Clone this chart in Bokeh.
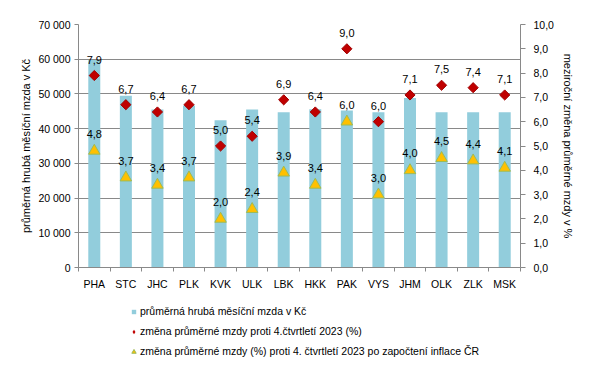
import numpy as np
from bokeh.plotting import figure
from bokeh.layouts import column
from bokeh.models import (Range1d, LinearAxis, FixedTicker, Legend, LegendItem,
                          ColumnDataSource)
from bokeh.core.properties import value
from bokeh.embed import file_html
from bokeh.resources import INLINE

# ---- data ----
regions = ["PHA", "STC", "JHC", "PLK", "KVK", "ULK", "LBK", "HKK", "PAK", "VYS",
           "JHM", "OLK", "ZLK", "MSK"]
wage = [59800, 49500, 45500, 46700, 42400, 45500, 44700, 45600, 45200, 44700,
        48800, 44700, 44700, 44700]
nominal = [7.9, 6.7, 6.4, 6.7, 5.0, 5.4, 6.9, 6.4, 9.0, 6.0, 7.1, 7.5, 7.4, 7.1]
real = [4.8, 3.7, 3.4, 3.7, 2.0, 2.4, 3.9, 3.4, 6.0, 3.0, 4.0, 4.5, 4.4, 4.1]
left_ticks = [0, 10000, 20000, 30000, 40000, 50000, 60000, 70000]
left_labels = ["0", "10 000", "20 000", "30 000", "40 000", "50 000", "60 000", "70 000"]
right_ticks = [0, 1, 2, 3, 4, 5, 6, 7, 8, 9, 10]
right_labels = ["0,0", "1,0", "2,0", "3,0", "4,0", "5,0", "6,0", "7,0", "8,0", "9,0", "10,0"]
legend_labels = ["průměrná hrubá měsíční mzda v Kč",
                 "změna průměrné mzdy proti 4.čtvrtletí 2023 (%)",
                 "změna průměrné mzdy (%) proti 4. čtvrtletí 2023 po započtení inflace ČR"]
left_title = "průměrná hrubá měsíční mzda v Kč"
right_title = "meziroční změna průměrné mzdy v %"

FONT = "Liberation Sans"
GRAY = "#898989"
BAR = "#92CDDC"
RED = "#C00000"
GOLD = "#FFC000"
OLIVE = "#9BBB59"

xpos = np.arange(len(regions)) + 0.5
src = ColumnDataSource(dict(
    x=xpos, wage=wage, nominal=nominal, real=real,
    nom_lbl=[f"{v:.1f}".replace(".", ",") for v in nominal],
    real_lbl=[f"{v:.1f}".replace(".", ",") for v in real],
))

p = figure(width=590, height=292, output_backend="svg", toolbar_location=None,
           x_range=Range1d(0, len(regions)), y_range=Range1d(0, 70000),
           min_border_left=78, min_border_right=70, min_border_top=24,
           min_border_bottom=24)
p.outline_line_color = None
p.background_fill_color = "white"
p.border_fill_color = "white"
p.extra_y_ranges = {"right": Range1d(0, 10)}

# grid
p.xgrid.visible = False
p.ygrid.ticker = FixedTicker(ticks=left_ticks)
p.ygrid.grid_line_color = GRAY
p.ygrid.grid_line_width = 1

# bars and markers
p.vbar(x="x", top="wage", width=0.38, source=src, fill_color=BAR, line_color=None)
p.scatter(x="x", y="nominal", source=src, y_range_name="right", marker="square",
          angle=np.pi / 4, size=7.2, fill_color=RED, line_color="#A00000")
p.scatter(x="x", y="real", source=src, y_range_name="right", marker="triangle",
          size=11.5, fill_color=GOLD, line_color=OLIVE, line_width=1)

p.text(x="x", y="nominal", text="nom_lbl", source=src, y_range_name="right",
       y_offset=-16, text_align="center", text_baseline="middle",
       text_font=value(FONT), text_font_size="11px", text_color="black")
p.text(x="x", y="real", text="real_lbl", source=src, y_range_name="right",
       y_offset=-17, text_align="center", text_baseline="middle",
       text_font=value(FONT), text_font_size="11px", text_color="black")

# axes
xa = p.xaxis[0]
xa.ticker = FixedTicker(ticks=list(xpos), minor_ticks=list(range(len(regions) + 1)))
xa.major_label_overrides = {float(x): r for x, r in zip(xpos, regions)}
xa.major_tick_out = 0
xa.major_tick_in = 0
xa.minor_tick_out = 4
xa.minor_tick_in = 0
xa.minor_tick_line_color = GRAY
xa.axis_line_color = GRAY
xa.major_label_standoff = 6
xa.major_label_text_font = FONT
xa.major_label_text_font_size = "10.5px"
xa.major_label_text_color = "black"

ya = p.yaxis[0]
ya.ticker = FixedTicker(ticks=left_ticks)
ya.major_label_overrides = {t: l for t, l in zip(left_ticks, left_labels)}
ya.minor_tick_line_color = None
ya.major_tick_out = 4
ya.major_tick_in = 0
ya.major_tick_line_color = GRAY
ya.axis_line_color = GRAY
ya.major_label_standoff = 4
ya.major_label_text_font = FONT
ya.major_label_text_font_size = "10.5px"
ya.major_label_text_color = "black"
ya.axis_label = left_title
ya.axis_label_text_font = FONT
ya.axis_label_text_font_size = "11px"
ya.axis_label_text_font_style = "normal"
ya.axis_label_text_color = "black"
ya.axis_label_standoff = 3

ra = LinearAxis(y_range_name="right", ticker=FixedTicker(ticks=right_ticks))
ra.major_label_overrides = {t: l for t, l in zip(right_ticks, right_labels)}
ra.minor_tick_line_color = None
ra.major_tick_out = 5
ra.major_tick_in = 0
ra.major_tick_line_color = GRAY
ra.axis_line_color = GRAY
ra.major_label_standoff = 8
ra.major_label_text_font = FONT
ra.major_label_text_font_size = "10.5px"
ra.major_label_text_color = "black"
ra.axis_label = right_title
ra.axis_label_text_font = FONT
ra.axis_label_text_font_size = "11px"
ra.axis_label_text_font_style = "normal"
ra.axis_label_text_color = "black"
ra.axis_label_standoff = 5
p.add_layout(ra, "right")

# ---- legend strip below the chart ----
lg = figure(width=590, height=73, output_backend="svg", toolbar_location=None,
            x_range=Range1d(0, 1), y_range=Range1d(0, 1),
            x_axis_type=None, y_axis_type=None,
            min_border_left=0, min_border_right=0, min_border_top=0,
            min_border_bottom=0)
lg.outline_line_color = None
lg.xgrid.visible = False
lg.ygrid.visible = False
nan_src = ColumnDataSource(dict(x=[np.nan], y=[np.nan]))
r1 = lg.scatter(x="x", y="y", source=nan_src, marker="square", size=6,
                fill_color=BAR, line_color=None)
r2 = lg.scatter(x="x", y="y", source=nan_src, marker="diamond", size=6,
                fill_color=RED, line_color=None)
r3 = lg.scatter(x="x", y="y", source=nan_src, marker="triangle", size=6,
                fill_color=GOLD, line_color=OLIVE)
legend = Legend(items=[
    LegendItem(label=legend_labels[0], renderers=[r1]),
    LegendItem(label=legend_labels[1], renderers=[r2]),
    LegendItem(label=legend_labels[2], renderers=[r3]),
], location=(50, 4))
legend.background_fill_alpha = 0
legend.border_line_color = None
legend.padding = 0
legend.margin = 0
legend.spacing = 0
legend.glyph_width = 11
legend.glyph_height = 11
legend.label_height = 20
legend.label_standoff = 1
legend.label_text_font = FONT
legend.label_text_font_size = "10.5px"
legend.label_text_color = "black"
legend.label_text_baseline = "middle"
lg.add_layout(legend, "center")

layout = column(p, lg, spacing=0)
open("out.html", "w").write(file_html(layout, INLINE))
